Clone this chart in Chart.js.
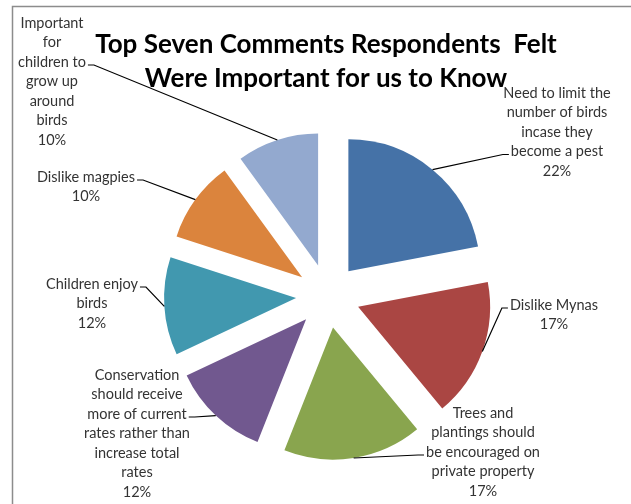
<!DOCTYPE html>
<html>
<head>
<meta charset="utf-8">
<title>Top Seven Comments</title>
<script src="https://cdn.jsdelivr.net/npm/chart.js@4.4.1/dist/chart.umd.min.js"></script>
<style>
    html, body { margin: 0; padding: 0; background: #ffffff; }
    canvas { display: block; }
</style>
</head>
<body>
<canvas id="commentsChart" width="631" height="504"></canvas>
<script>
// Comment categories (each entry is one wrapped label) and their shares in %
const categories = [
    ['Need to limit the', 'number of birds', 'incase they', 'become a pest'],
    ['Dislike Mynas'],
    ['Trees and', 'plantings should', 'be encouraged on', 'private property'],
    ['Conservation', 'should receive', 'more of current', 'rates rather than', 'increase total', 'rates'],
    ['Children enjoy', 'birds'],
    ['Dislike magpies'],
    ['Important', 'for', 'children to', 'grow up', 'around', 'birds']
];
const shares = [22, 17, 17, 12, 12, 10, 10];
const sliceColors = ['#4572a7', '#aa4643', '#89a54e', '#71588f', '#4198af', '#db843d', '#93a9cf'];
const titleLines = ['Top Seven Comments Respondents  Felt', 'Were Important for us to Know'];

// where each label block sits: centre x, first line y, the line the leader
// attaches to and which side of that line it leaves from
const labelLayout = [
    { x: 557, y: 93, line: 3, side: 'left' },
    { x: 554, y: 305, line: 0, side: 'left' },
    { x: 483, y: 413, line: 2, side: 'left' },
    { x: 137, y: 375, line: 2, side: 'right' },
    { x: 92, y: 284, line: 0, side: 'right' },
    { x: 86, y: 177, line: 0, side: 'right' },
    { x: 52, y: 23, line: 2, side: 'right' }
];

const EXPLODE = 32;
const RADIUS = 132;
const LINE_H = 19.5;
const LABEL_FONT = '14.5px Lato';

// draws every slice pushed out from the centre along its mid angle
const explodedSlices = {
    id: 'explodedSlices',
    beforeDatasetDraw(chart, args) {
        const ctx = chart.ctx;
        args.meta.data.forEach(arc => {
            const mid = (arc.startAngle + arc.endAngle) / 2;
            ctx.save();
            ctx.translate(Math.cos(mid) * EXPLODE, Math.sin(mid) * EXPLODE);
            arc.draw(ctx);
            ctx.restore();
        });
        return false;
    }
};

// frame, title, data labels and leader lines
const decorations = {
    id: 'decorations',
    beforeDraw(chart) {
        const ctx = chart.ctx;
        ctx.save();
        ctx.fillStyle = '#ffffff';
        ctx.fillRect(0, 0, chart.width, chart.height);
        ctx.strokeStyle = '#8c8c8c';
        ctx.lineWidth = 1.5;
        ctx.strokeRect(12.5, 6.5, chart.width + 20, chart.height + 20);
        ctx.restore();
    },
    afterDraw(chart) {
        const ctx = chart.ctx;
        const meta = chart.getDatasetMeta(0);
        ctx.save();

        ctx.fillStyle = '#000000';
        ctx.font = 'bold 26px Lato';
        ctx.textAlign = 'center';
        ctx.textBaseline = 'middle';
        ctx.fillText(titleLines[0], 326, 45);
        ctx.fillText(titleLines[1], 326, 79);

        ctx.font = LABEL_FONT;
        meta.data.forEach((arc, i) => {
            const box = labelLayout[i];
            const lines = categories[i].concat([shares[i] + '%']);
            ctx.fillStyle = '#333333';
            lines.forEach((txt, k) => ctx.fillText(txt, box.x, box.y + k * LINE_H));

            // leader: short stub beside the text, then to the middle of the outer arc
            const w = ctx.measureText(categories[i][box.line]).width;
            const ly = box.y + box.line * LINE_H + 3;
            const dir = box.side === 'left' ? -1 : 1;
            const sx = box.x + dir * (w / 2 + 2);
            const mid = (arc.startAngle + arc.endAngle) / 2;
            const ex = arc.x + Math.cos(mid) * (EXPLODE + arc.outerRadius);
            const ey = arc.y + Math.sin(mid) * (EXPLODE + arc.outerRadius);
            ctx.strokeStyle = '#000000';
            ctx.lineWidth = 1.2;
            ctx.beginPath();
            ctx.moveTo(sx, ly);
            ctx.lineTo(sx + dir * 6, ly);
            ctx.lineTo(ex, ey);
            ctx.stroke();
        });
        ctx.restore();
    }
};

new Chart(document.getElementById('commentsChart'), {
    type: 'pie',
    data: {
        labels: categories.map(c => c.join(' ')),
        datasets: [{
            data: shares,
            backgroundColor: sliceColors,
            borderWidth: 0,
            hoverOffset: 0,
            radius: RADIUS
        }]
    },
    options: {
        responsive: false,
        animation: false,
        events: [],
        radius: RADIUS,
        layout: { padding: { left: 180, right: 155, top: 160, bottom: 72 } },
        plugins: {
            legend: { display: false },
            title: { display: false },
            tooltip: { enabled: false }
        }
    },
    plugins: [explodedSlices, decorations]
});
</script>
</body>
</html>
